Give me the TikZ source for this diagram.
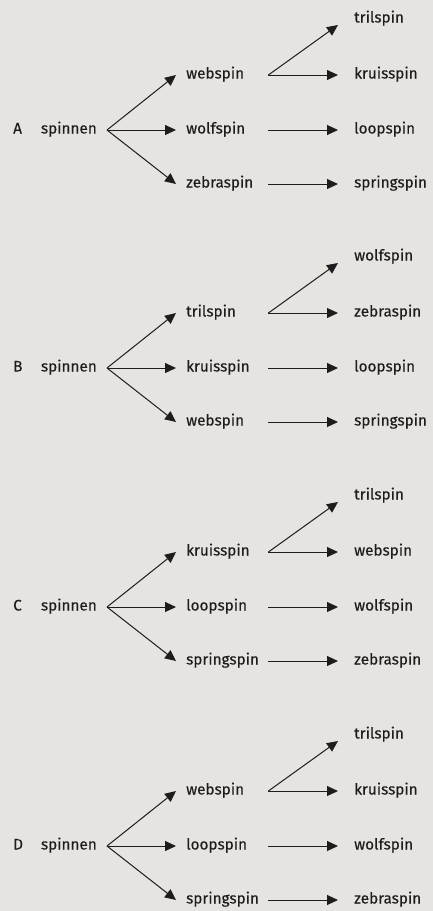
\documentclass[tikz,border=0pt]{standalone}
\usepackage{fontspec}
\setmainfont[FakeBold=0.2]{Fira Sans}
\usetikzlibrary{arrows.meta}
\definecolor{bg}{RGB}{229,228,225}
\definecolor{ink}{RGB}{30,28,28}
\tikzset{
  base/.style={inner ysep=0pt, text height=10pt, text depth=3pt, font=\fontsize{15.3}{17}\selectfont, text=ink},
  lettr/.style={base, anchor=west, inner xsep=0pt},
  rootn/.style={base, anchor=east, inner xsep=10pt},
  midn/.style={base, anchor=west, inner xsep=10pt, text width=72pt, align=left},
  leafn/.style={base, anchor=west, inner xsep=16pt},
  arr/.style={draw=ink, line width=1pt, -{Triangle[length=11pt,width=10pt]}}
}
\newcommand\drawpanel[9]{%
  \node[lettr] (#1) at (13,#2) {#1};
  \node[rootn] (#1r) at (107,#2) {spinnen};
  \node[midn] (#1u) at (176,#2-55) {#3};
  \node[midn] (#1m) at (176,#2) {#4};
  \node[midn] (#1l) at (176,#2+54) {#5};
  \node[leafn] (#1T) at (338,#2-111) {#6};
  \node[leafn] (#1U) at (338,#2-55) {#7};
  \node[leafn] (#1M) at (338,#2) {#8};
  \node[leafn] (#1L) at (338,#2+54) {#9};
  \draw[arr] (#1r.east) -- (#1u.west);
  \draw[arr] (#1r.east) -- (#1m.west);
  \draw[arr] (#1r.east) -- (#1l.west);
  \draw[arr] (#1u.east) -- ([yshift=-6pt]#1T.west);
  \draw[arr] (#1u.east) -- (#1U.west);
  \draw[arr] (#1m.east) -- (#1M.west);
  \draw[arr] (#1l.east) -- (#1L.west);
}
\begin{document}
\begin{tikzpicture}[x=1pt,y=-1pt]
  \fill[bg] (0,0) rectangle (433,911);
  \useasboundingbox (0,0) rectangle (433,911);
  \drawpanel{A}{130}{webspin}{wolfspin}{zebraspin}{trilspin}{kruisspin}{loopspin}{springspin}
  \drawpanel{B}{368}{trilspin}{kruisspin}{webspin}{wolfspin}{zebraspin}{loopspin}{springspin}
  \drawpanel{C}{607}{kruisspin}{loopspin}{springspin}{trilspin}{webspin}{wolfspin}{zebraspin}
  \drawpanel{D}{846}{webspin}{loopspin}{springspin}{trilspin}{kruisspin}{wolfspin}{zebraspin}
\end{tikzpicture}
\end{document}
